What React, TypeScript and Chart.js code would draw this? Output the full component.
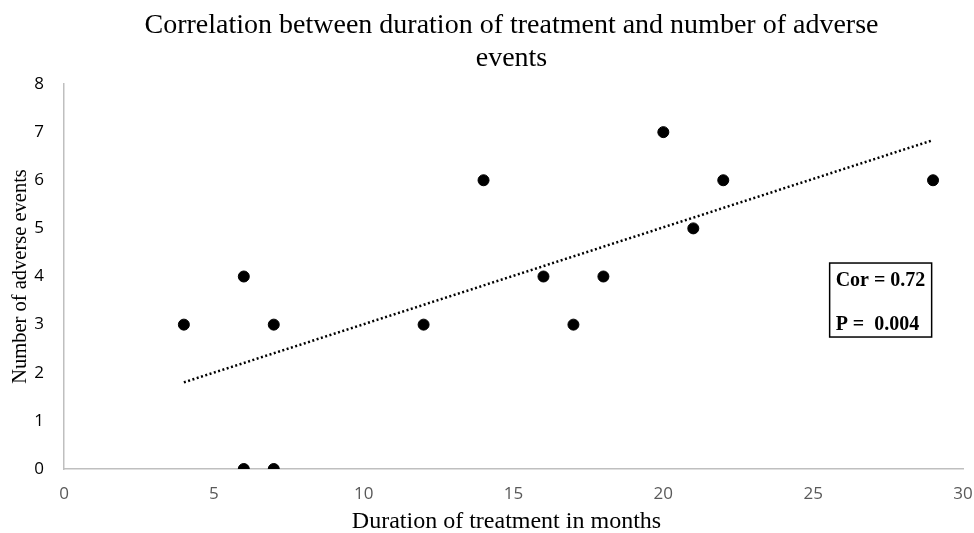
import React, { useEffect, useRef } from "react";
import { Chart, registerables } from "chart.js";

Chart.register(...registerables);

const durationMonths = [4, 6, 6, 7, 7, 12, 14, 16, 17, 18, 20, 21, 22, 29];
const adverseEvents = [3, 4, 0, 3, 0, 3, 6, 4, 3, 4, 7, 5, 6, 6];
const titleLines = ["Correlation between duration of treatment and number of adverse", "events"];
const xAxisTitle = "Duration of treatment in months";
const yAxisTitle = "Number of adverse events";
const statLines = ["Cor = 0.72", "P =  0.004"];
const boxAnchor = { x: 25.55, y: 4.28 };

function regression(xs: number[], ys: number[]) {
  const n = xs.length;
  const mx = xs.reduce((a, b) => a + b, 0) / n;
  const my = ys.reduce((a, b) => a + b, 0) / n;
  let sxy = 0, sxx = 0;
  for (let i = 0; i < n; i++) {
    sxy += (xs[i] - mx) * (ys[i] - my);
    sxx += (xs[i] - mx) * (xs[i] - mx);
  }
  const slope = sxy / sxx;
  return { slope, intercept: my - slope * mx };
}

const serif = "'Liberation Serif', 'Times New Roman', serif";
const sans = "'Open Sans', 'Liberation Sans', sans-serif";

const textPlugin = {
  id: "texts",
  afterDraw(chart: any) {
    const ctx = chart.ctx;
    const ca = chart.chartArea;
    const cx = (ca.left + ca.right) / 2;
    ctx.save();
    ctx.fillStyle = "#000";
    ctx.font = `28px ${serif}`;
    ctx.textAlign = "center";
    ctx.textBaseline = "middle";
    titleLines.forEach((t, i) => ctx.fillText(t, cx - 2, 26 + i * 33));
    ctx.font = `24px ${serif}`;
    ctx.fillText(xAxisTitle, cx - 7, 522);
    ctx.restore();
  },
};

const statBoxPlugin = {
  id: "statBox",
  afterDatasetsDraw(chart: any) {
    const ctx = chart.ctx;
    const xs = chart.scales.x;
    const ys = chart.scales.y;
    const left = xs.getPixelForValue(boxAnchor.x);
    const top = ys.getPixelForValue(boxAnchor.y);
    const w = 102;
    const h = 74;
    ctx.save();
    ctx.fillStyle = "#fff";
    ctx.fillRect(left, top, w, h);
    ctx.strokeStyle = "#000";
    ctx.lineWidth = 1.5;
    ctx.strokeRect(left, top, w, h);
    ctx.fillStyle = "#000";
    ctx.font = `bold 20px ${serif}`;
    ctx.textBaseline = "middle";
    ctx.textAlign = "left";
    ctx.fillText(statLines[0], left + 6, top + 18);
    ctx.fillText(statLines[1], left + 6, top + 62);
    ctx.restore();
  },
};

export default function App() {
  const ref = useRef<HTMLCanvasElement>(null);
  useEffect(() => {
    document.body.style.margin = "0";
    const { slope, intercept } = regression(durationMonths, adverseEvents);
    const xMin = Math.min(...durationMonths);
    const xMax = Math.max(...durationMonths);
    const points = durationMonths.map((x, i) => ({ x, y: adverseEvents[i] }));
    const chart = new Chart(ref.current!, {
      type: "scatter",
      data: {
        datasets: [
          {
            type: "line",
            data: [
              { x: xMin, y: intercept + slope * xMin },
              { x: xMax, y: intercept + slope * xMax },
            ],
            borderColor: "#000",
            borderWidth: 2.5,
            borderDash: [2, 2.5],
            pointRadius: 0,
            fill: false,
          } as any,
          {
            data: points,
            backgroundColor: "#000",
            borderColor: "#000",
            pointRadius: 5.5,
          },
        ],
      },
      options: {
        animation: false,
        responsive: false,
        layout: { padding: { left: 0, right: 11, top: 84, bottom: 0 } },
        plugins: {
          legend: { display: false },
          tooltip: { enabled: false },
          title: { display: false },
        },
        scales: {
          x: {
            type: "linear",
            min: 0,
            max: 30,
            ticks: { stepSize: 5, color: "#595959", font: { family: sans, size: 17 }, padding: 7 },
            grid: { display: false },
            border: { display: true, color: "#bfbfbf", width: 1.5 },
            title: { display: false },
            afterFit: (s: any) => { s.height = 64; s.paddingLeft = 0; s.paddingRight = 0; },
          },
          y: {
            min: 0,
            max: 8,
            ticks: { stepSize: 1, color: "#000", font: { family: sans, size: 17 }, padding: 12 },
            grid: { display: false },
            border: { display: true, color: "#bfbfbf", width: 1.5 },
            title: {
              display: true,
              text: yAxisTitle,
              color: "#000",
              font: { family: serif, size: 20.5 },
              padding: { top: 8, bottom: 2 },
            },
            afterFit: (s: any) => { s.width = 64; s.paddingTop = 0; s.paddingBottom = 0; },
          },
        },
      },
      plugins: [textPlugin, statBoxPlugin],
    });
    return () => chart.destroy();
  }, []);
  return (
    <div style={{ width: 974, height: 533 }}>
      <canvas ref={ref} width={974} height={533} />
    </div>
  );
}
